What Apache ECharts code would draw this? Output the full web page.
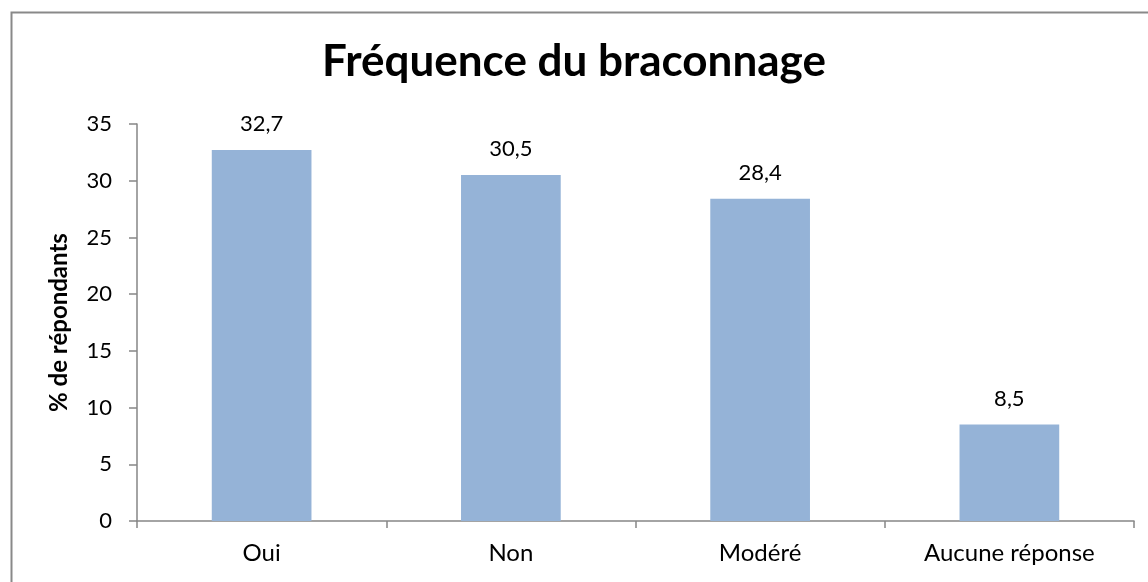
<!DOCTYPE html>
<html>
<head>
<meta charset="utf-8">
<script src="https://cdn.jsdelivr.net/npm/echarts@6/dist/echarts.min.js"></script>
<style>
  html, body { margin: 0; padding: 0; background: #fff; }
  #chart { width: 1148px; height: 582px; }
</style>
</head>
<body>
<div id="chart"></div>
<script>
// Fréquence du braconnage — share of respondents per answer
const categories = ['Oui', 'Non', 'Modéré', 'Aucune réponse'];
const percentages = [32.7, 30.5, 28.4, 8.5];
const yTicks = { min: 0, max: 35, interval: 5 };

const FONT = 'Lato, "Open Sans", sans-serif';
const chart = echarts.init(document.getElementById('chart'));

chart.setOption({
  backgroundColor: '#ffffff',
  animation: false,
  title: {
    text: 'Fréquence du braconnage',
    left: 'center',
    top: 35,
    textStyle: { fontFamily: FONT, fontSize: 44, fontWeight: 'bold', color: '#000' }
  },
  graphic: [{
    type: 'rect',
    shape: { x: 11.5, y: 12.5, width: 1160, height: 620 },
    style: { fill: 'none', stroke: '#898989', lineWidth: 2 },
    silent: true
  }],
  grid: { left: 137, right: 14, top: 124, bottom: 61 },
  xAxis: {
    type: 'category',
    data: categories,
    axisLine: { lineStyle: { color: '#868686', width: 1.5 } },
    axisTick: { show: true, alignWithLabel: false, length: 7, lineStyle: { color: '#868686', width: 1.5 } },
    axisLabel: { fontFamily: FONT, fontSize: 24, color: '#000', margin: 20 }
  },
  yAxis: {
    type: 'value',
    min: yTicks.min,
    max: yTicks.max,
    interval: yTicks.interval,
    name: '% de répondants',
    nameLocation: 'middle',
    nameGap: 66,
    nameTextStyle: { fontFamily: FONT, fontSize: 24, fontWeight: 'bold', color: '#000' },
    splitLine: { show: false },
    axisLine: { show: true, lineStyle: { color: '#868686', width: 1.5 } },
    axisTick: { show: true, length: 8, lineStyle: { color: '#868686', width: 1.5 } },
    axisLabel: { fontFamily: FONT, fontSize: 22, color: '#000', margin: 25 }
  },
  series: [{
    type: 'bar',
    data: percentages,
    barWidth: '40%',
    itemStyle: { color: '#95B3D7' },
    label: {
      show: true,
      position: 'top',
      distance: 15,
      fontFamily: FONT,
      fontSize: 22,
      color: '#000',
      formatter: p => p.value.toFixed(1).replace('.', ',')
    }
  }]
});
</script>
</body>
</html>
